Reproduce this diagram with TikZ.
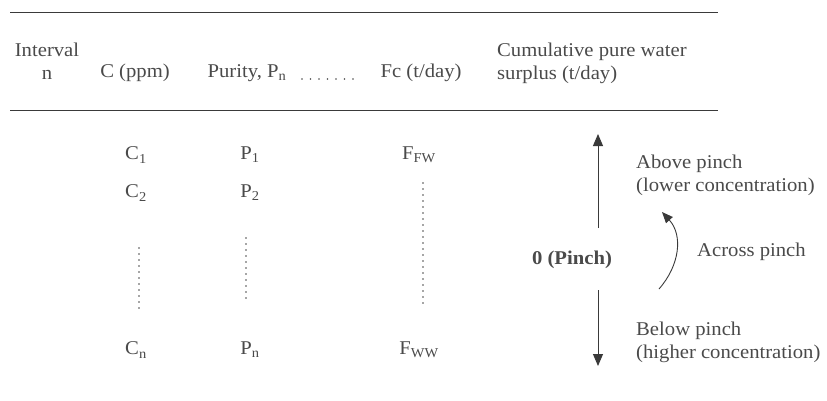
\documentclass[tikz,border=0pt]{standalone}
\usepackage{fontspec}
\setmainfont{Liberation Serif}[FakeStretch=1.06]
\usetikzlibrary{arrows.meta}
\definecolor{ink}{HTML}{4A4A4A}
\definecolor{rule}{HTML}{3A3A3A}
\begin{document}
\begin{tikzpicture}[x=1pt,y=-1pt,
  txt/.style={text=ink,font=\fontsize{19.5}{23}\selectfont,inner sep=0pt},
  lefttxt/.style={txt,anchor=west,align=left},
  vdots/.style={draw=ink,line width=1.6pt,line cap=round,dash pattern=on 0pt off 6pt},
  hdots/.style={draw=ink,line width=1.9pt,line cap=round,dash pattern=on 0pt off 8.5pt},
  bigarrow/.style={draw=rule,line width=0.9pt,-{Triangle[length=12pt,width=10pt]}}]
\useasboundingbox (0,0) rectangle (827,400);
% table rules
\draw[rule,line width=0.9pt] (10,12) -- (718,12);
\draw[rule,line width=0.9pt] (10,110) -- (718,110);
% header
\node[txt,align=center] (hint) at (47,61) {Interval\\n};
\node[txt] (hc) at (135,73) {C (ppm)};
\node[txt] (hp) at (247,73) {Purity, P\textsubscript{n}};
\coordinate (hdl) at (302,79);
\coordinate (hdr) at (356,79);
\draw[hdots] (hdl) -- (hdr);
\node[txt] (hf) at (421,73) {Fc (t/day)};
\node[lefttxt] (hcum) at (497,63) {Cumulative pure water\\surplus (t/day)};
% column entries
\node[txt] (c1) at (136,155) {C\textsubscript{1}};
\node[txt] (c2) at (136,193) {C\textsubscript{2}};
\node[txt] (cn) at (136,350) {C\textsubscript{n}};
\node[txt] (p1) at (250,155) {P\textsubscript{1}};
\node[txt] (p2) at (250,193) {P\textsubscript{2}};
\node[txt] (pn) at (250,350) {P\textsubscript{n}};
\node[txt] (f1) at (419,155) {F\textsubscript{FW}};
\node[txt] (fn) at (419,350) {F\textsubscript{WW}};
% vertical ellipses
\draw[vdots] (139,248) -- (139,309);
\draw[vdots] (246,238) -- (246,299);
\draw[vdots] (423,183) -- (423,307);
% pinch column
\node[txt,font=\fontsize{19.5}{23}\selectfont\bfseries] (pinch) at (572,260) {0 (Pinch)};
\coordinate (upstart) at (598,228);
\coordinate (uptip) at (598,134);
\coordinate (dnstart) at (598,290);
\coordinate (dntip) at (598,366);
\draw[bigarrow] (upstart) -- (uptip);
\draw[bigarrow] (dnstart) -- (dntip);
\node[lefttxt] (above) at (636,175) {Above pinch\\(lower concentration)};
\node[lefttxt] (below) at (636,342) {Below pinch\\(higher concentration)};
\node[lefttxt] (across) at (697,252) {Across pinch};
\coordinate (xs) at (659,289);
\coordinate (xe) at (662,212);
\draw[draw=rule,line width=0.9pt,-{Triangle[length=11pt,width=9pt]}] (xs) .. controls (680,265) and (683,235) .. (xe);
\end{tikzpicture}
\end{document}
